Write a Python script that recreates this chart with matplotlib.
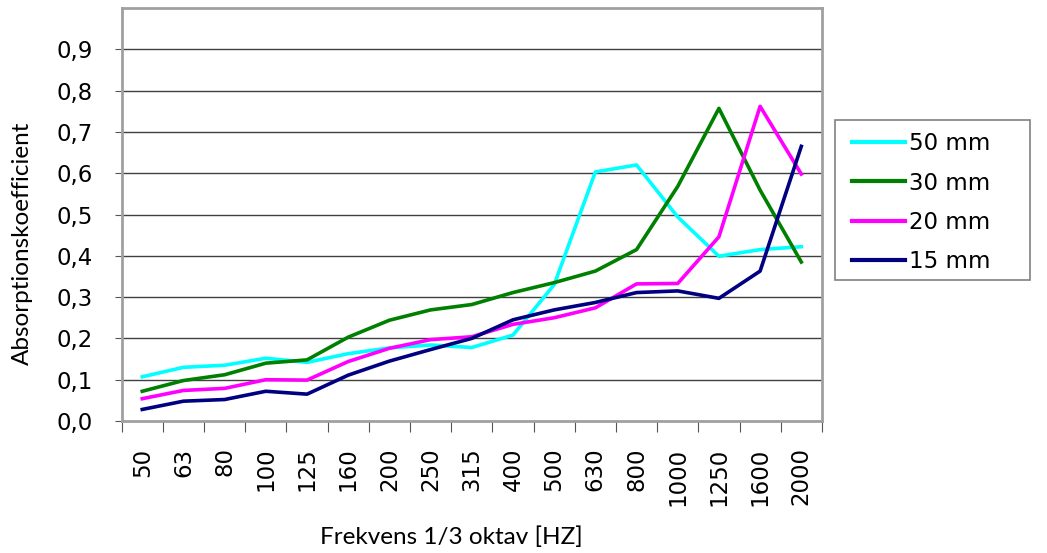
import numpy as np
import matplotlib.pyplot as plt
from matplotlib.patches import Rectangle

plt.rcParams['font.family'] = ['DejaVu Sans']

freqs = ['50', '63', '80', '100', '125', '160', '200', '250', '315', '400',
         '500', '630', '800', '1000', '1250', '1600', '2000']

mm50 = [0.107, 0.130, 0.135, 0.152, 0.142, 0.163, 0.177, 0.184, 0.178, 0.208,
        0.330, 0.603, 0.620, 0.494, 0.399, 0.415, 0.422]
mm30 = [0.072, 0.098, 0.112, 0.140, 0.148, 0.203, 0.244, 0.269, 0.282, 0.311,
        0.335, 0.363, 0.415, 0.568, 0.757, 0.559, 0.385]
mm20 = [0.054, 0.074, 0.079, 0.100, 0.099, 0.144, 0.176, 0.197, 0.204, 0.234,
        0.250, 0.274, 0.332, 0.333, 0.446, 0.762, 0.598]
mm15 = [0.028, 0.048, 0.052, 0.072, 0.065, 0.111, 0.145, 0.173, 0.200, 0.245,
        0.269, 0.287, 0.311, 0.315, 0.297, 0.363, 0.665]

series = [('50 mm', mm50, '#00FFFF'),
          ('30 mm', mm30, '#008000'),
          ('20 mm', mm20, '#FF00FF'),
          ('15 mm', mm15, '#000080')]

W, H = 1047, 553
fig = plt.figure(figsize=(W / 100, H / 100), dpi=100)
ax = fig.add_axes([0.1162, 0.2387, 0.6688, 0.7468])

x = np.arange(len(freqs))
for name, vals, col in series:
    ax.plot(x, vals, color=col, lw=2.6, label=name)

ax.set_xlim(-0.5, len(freqs) - 0.5)
ax.set_ylim(0, 1.0)

yt = np.arange(0, 1.0, 0.1)
ax.set_yticks(yt)
ax.set_yticklabels([('%.1f' % v).replace('.', ',') for v in yt], fontsize=16.5)
for v in yt[1:]:
    ax.axhline(v, color='#404040', lw=1.0, zorder=0)

ax.set_xticks(np.arange(-0.5, len(freqs), 1.0))
ax.set_xticklabels([])
ax.set_xticks(x, minor=True)
ax.set_xticklabels(freqs, minor=True, rotation=90, fontsize=16.5)
ax.tick_params(axis='x', which='major', direction='out', length=8, color='#555555')
ax.tick_params(axis='x', which='minor', length=0, pad=19)
ax.tick_params(axis='y', direction='out', length=5, color='#555555', pad=16)

for s in ax.spines.values():
    s.set_color('#a0a0a0')
    s.set_linewidth(2)

fig.text(22 / W, 1 - 243 / H, 'Absorptionskoefficient', family='Lato', fontsize=17.5,
         rotation=90, ha='center', va='center')
fig.text(451 / W, 1 - 537 / H, 'Frekvens 1/3 oktav [HZ]', family='Lato', fontsize=17.5,
         ha='center', va='center')

fig.patches.append(Rectangle((835 / W, 1 - 280 / H), 195 / W, 160 / H,
                             transform=fig.transFigure, facecolor='white',
                             edgecolor='#808080', lw=1.2))
leg = fig.legend(loc='upper left', bbox_to_anchor=(852 / W, 1 - 132 / H), fontsize=16.5,
                 frameon=False, borderpad=0, labelspacing=0.72,
                 handlelength=2.3, handletextpad=0.2, borderaxespad=0)
for ln in leg.get_lines():
    ln.set_linewidth(3)

fig.savefig('out.png', dpi=100)
